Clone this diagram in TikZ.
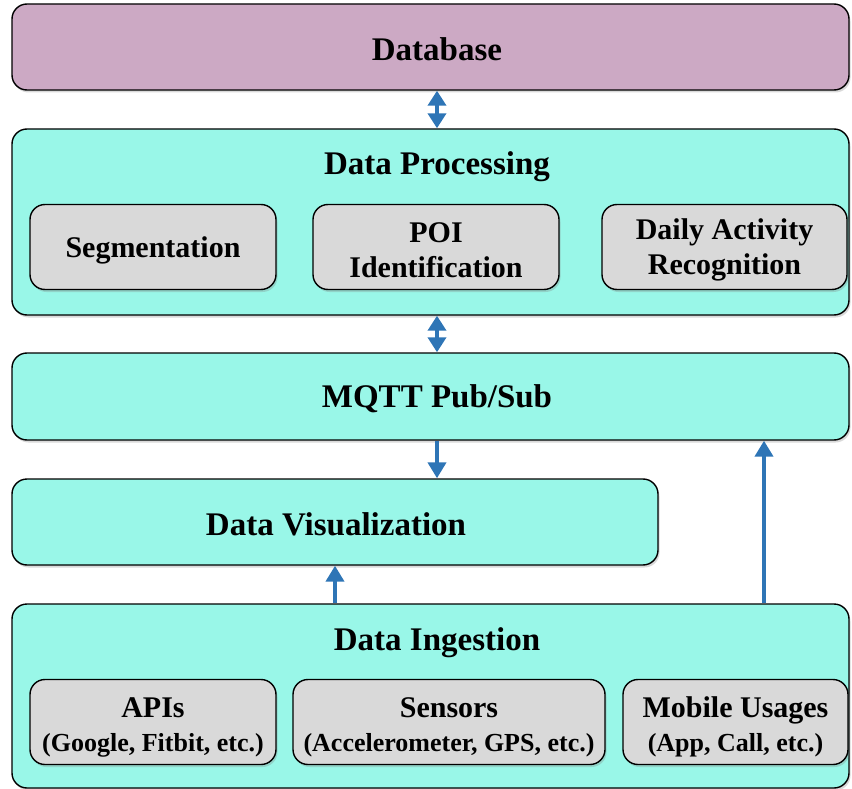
\documentclass[tikz,border=0pt]{standalone}
\usepackage{fontspec}
\setmainfont{Liberation Serif}
\usetikzlibrary{arrows.meta,shadows}
\definecolor{dbfill}{HTML}{CCA9C4}
\definecolor{layerfill}{HTML}{99F7E8}
\definecolor{subfill}{HTML}{D9D9D9}
\definecolor{arrowblue}{HTML}{2E75B6}
\newcommand{\subline}{\fontsize{26}{30}\selectfont}
\tikzset{
  layer/.style={draw=black, line width=1.4pt, rounded corners=15pt, fill=layerfill,
    drop shadow={shadow xshift=1.5pt, shadow yshift=-2.5pt, opacity=0.3}},
  subbox/.style={draw=black, line width=1.4pt, rounded corners=15pt, fill=subfill,
    minimum height=85pt, align=center, font=\fontsize{30}{36}\selectfont\bfseries,
    drop shadow={shadow xshift=1.5pt, shadow yshift=-2.5pt, opacity=0.3}},
  label/.style={align=center, font=\fontsize{30}{36}\selectfont\bfseries},
  title/.style={font=\fontsize{33}{38}\selectfont\bfseries},
  flow/.style={draw=arrowblue, line width=4pt, -{Triangle[width=18pt,length=16pt]}},
  biflow/.style={draw=arrowblue, line width=4pt, {Triangle[width=18pt,length=15pt]}-{Triangle[width=18pt,length=15pt]}},
}
\begin{document}
\begin{tikzpicture}[x=1pt,y=-1pt]
\useasboundingbox (0,0) rectangle (852,789);

% layers
\node[layer, fill=dbfill, minimum width=837pt, minimum height=86pt] (db) at (430.5,47) {};
\node[title] (dbtitle) at (437,49) {Database};
\node[layer, minimum width=837pt, minimum height=186pt] (proc) at (430.5,222) {};
\node[title] (proctitle) at (437,167) {Data Processing};
\node[layer, minimum width=837pt, minimum height=87pt] (mqtt) at (430.5,396.5) {};
\node[title] (mqtttitle) at (437,399) {MQTT Pub/Sub};
\node[layer, minimum width=646pt, minimum height=86pt] (viz) at (335,522) {};
\node[title] (viztitle) at (336,524) {Data Visualization};
\node[layer, minimum width=837pt, minimum height=184pt] (ing) at (430.5,696) {};
\node[title] (ingtitle) at (437,643) {Data Ingestion};

% processing steps
\node[subbox, minimum width=246pt] (seg) at (153,247) {};
\node[label] (segtext) at (153,250) {Segmentation};
\node[subbox, minimum width=246pt] (poi) at (436,247) {};
\node[label] (poitext) at (436,250) {POI\\[-1pt]Identification};
\node[subbox, minimum width=245pt] (dar) at (724.5,247) {};
\node[label] (dartext) at (724.5,250) {Daily Activity\\[-1pt]Recognition};

% data sources
\node[subbox, minimum width=246pt] (api) at (153,722) {};
\node[label] (apitext) at (153,727) {APIs\\[-2pt]{\subline (Google, Fitbit, etc.)}};
\node[subbox, minimum width=312pt] (sen) at (449,722) {};
\node[label] (sentext) at (449,727) {Sensors\\[-2pt]{\subline (Accelerometer, GPS, etc.)}};
\node[subbox, minimum width=225pt] (mob) at (735.5,722) {};
\node[label] (mobtext) at (735.5,727) {Mobile Usages\\[-2pt]{\subline (App, Call, etc.)}};

% connectors
\coordinate (mid) at (437,0);
\coordinate (side) at (764,0);
\draw[biflow] (db.south -| mid) -- (proc.north -| mid);
\draw[biflow] (proc.south -| mid) -- (mqtt.north -| mid);
\draw[flow] (mqtt.south -| mid) -- (viz.north -| mid);
\draw[flow] (ing.north -| viz.south) -- (viz.south);
\draw[flow] (ing.north -| side) -- (mqtt.south -| side);
\end{tikzpicture}
\end{document}
